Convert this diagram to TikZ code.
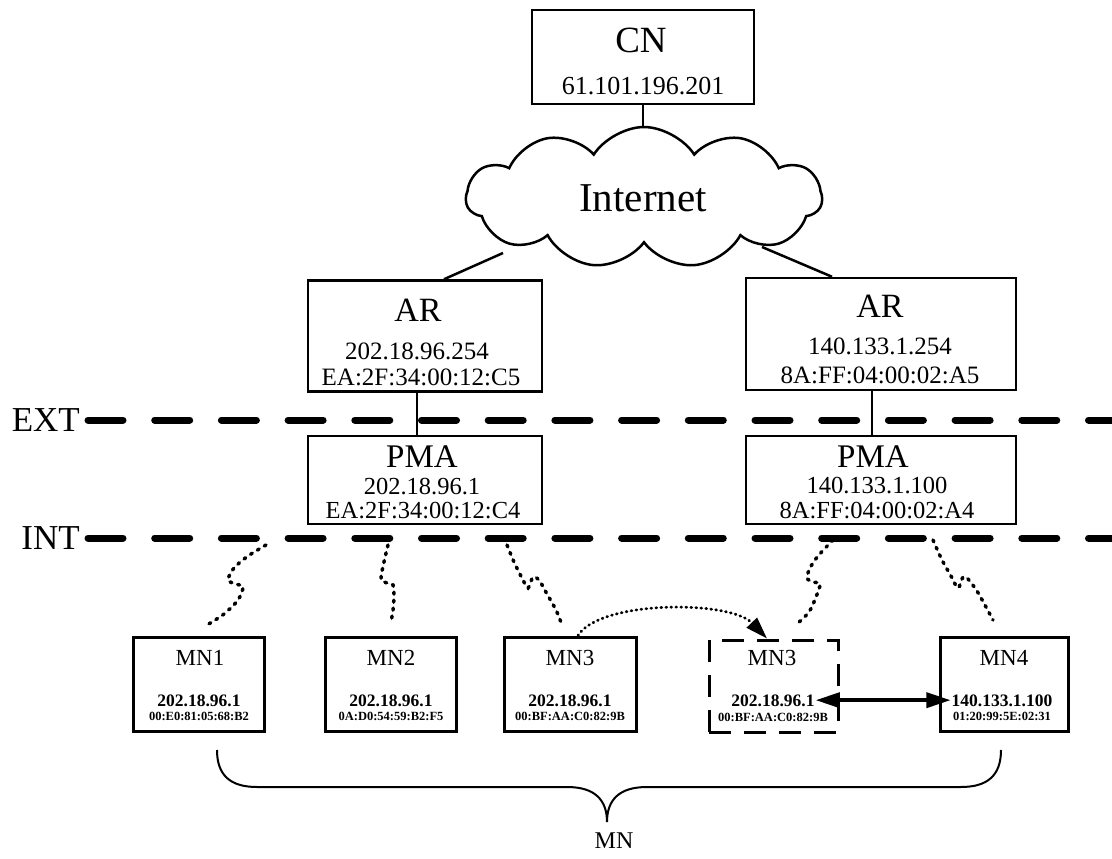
\documentclass[tikz,border=0pt]{standalone}
\usepackage{fontspec}
\setmainfont{Liberation Serif}
\usetikzlibrary{shapes.symbols,arrows.meta,calc}
\newcommand\sz[1]{\fontsize{#1}{#1}\selectfont}
\tikzset{
  ubox/.style={draw, line width=2.5pt, inner sep=0pt},
  mnbox/.style={draw, line width=3pt, inner sep=0pt, minimum height=94pt},
  txt/.style={anchor=base, inner sep=0pt, text depth=0pt},
  conn/.style={line width=2.5pt},
  netline/.style={line width=7pt, line cap=round, dash pattern=on 35pt off 31.7pt},
  wl/.style={line width=3.5pt, line cap=round, dash pattern=on 2pt off 6pt},
  mvarrow/.style={line width=2.8pt, line cap=round, dash pattern=on 0.8pt off 4.2pt, -{Triangle[length=22pt,width=14pt]}},
  dblarrow/.style={line width=3.5pt, {Triangle[length=24pt,width=15pt]}-{Triangle[length=24pt,width=15pt]}},
}
\begin{document}
\begin{tikzpicture}[x=1pt,y=-1pt]
\useasboundingbox (0,0) rectangle (1112,859);

% CN
\node[ubox, minimum width=222pt, minimum height=94pt] (cn) at (643,57) {};
\node[txt] (cnlbl) at (641,53) {\sz{37}CN};
\node[txt] (cnip) at (643,95) {\sz{26}61.101.196.201};

% Internet cloud
\node[cloud, draw, line width=2.5pt, cloud puffs=11, cloud puff arc=115, aspect=2.5,
      minimum width=356pt, minimum height=141pt, inner sep=0pt] (inet) at (644,197.5) {};
\node[txt] (inettxt) at (643,211) {\sz{41}Internet};
\coordinate (inetSW) at (503,253);
\coordinate (inetSE) at (762,247);

% AR boxes
\node[ubox, minimum width=234pt, minimum height=111pt] (arl) at (425,336) {};
\node[txt] (arlt) at (418,321) {\sz{34}AR};
\node[txt] (arlip) at (417,359) {\sz{25}202.18.96.254};
\node[txt] (arlmac) at (421,385) {\sz{25}EA:2F:34:00:12:C5};

\node[ubox, minimum width=270pt, minimum height=112pt] (arr) at (881,334) {};
\node[txt] (arrt) at (880,317) {\sz{34}AR};
\node[txt] (arrip) at (880,354) {\sz{25}140.133.1.254};
\node[txt] (arrmac) at (880,383) {\sz{25}8A:FF:04:00:02:A5};

% PMA boxes
\node[ubox, minimum width=234pt, minimum height=88pt] (pmal) at (425,480) {};
\node[txt] (pmalt) at (422,467) {\sz{33}PMA};
\node[txt] (pmalip) at (422,494) {\sz{24.5}202.18.96.1};
\node[txt] (pmalmac) at (423,518) {\sz{24.5}EA:2F:34:00:12:C4};

\node[ubox, minimum width=270pt, minimum height=88pt] (pmar) at (881,480) {};
\node[txt] (pmart) at (873,467) {\sz{33}PMA};
\node[txt] (pmarip) at (877,493) {\sz{24.5}140.133.1.100};
\node[txt] (pmarmac) at (877,518) {\sz{24.5}8A:FF:04:00:02:A4};

% connectors
\draw[conn] (cn.south) -- (cn.south |- inet.north);
\draw[conn] (inetSW) -- ([xshift=19pt]arl.north);
\draw[conn] (inetSE) -- ([xshift=-49pt]arr.north);
\draw[conn] ([xshift=-8pt]arl.south) -- ([xshift=-8pt]pmal.north);
\draw[conn] ([xshift=-9pt]arr.south) -- ([xshift=-9pt]pmar.north);

% EXT / INT lines
\node[txt, anchor=base east] (ext) at (80,431.5) {\sz{35}EXT};
\node[txt, anchor=base east] (int) at (80,549.5) {\sz{35}INT};
\coordinate (extend) at (1125,420);
\coordinate (intend) at (1125,538);
\draw[netline] (88,420) -- (extend);
\draw[netline] (88,538) -- (intend);

% MN boxes
\node[mnbox, minimum width=131pt] (mn1) at (198.5,684) {};
\node[txt] (mn1t) at (200,665) {\sz{23}MN1};
\node[txt] (mn1ip) at (199,706) {\bfseries\sz{17.5}202.18.96.1};
\node[txt] (mn1mac) at (199,720) {\bfseries\sz{12.5}00:E0:81:05:68:B2};

\node[mnbox, minimum width=131pt] (mn2) at (390.5,684) {};
\node[txt] (mn2t) at (391,665) {\sz{23}MN2};
\node[txt] (mn2ip) at (391,706) {\bfseries\sz{17.5}202.18.96.1};
\node[txt] (mn2mac) at (391,720) {\bfseries\sz{12.5}0A:D0:54:59:B2:F5};

\node[mnbox, minimum width=132pt] (mn3) at (570,684) {};
\node[txt] (mn3t) at (570,665) {\sz{23}MN3};
\node[txt] (mn3ip) at (570,706) {\bfseries\sz{17.5}202.18.96.1};
\node[txt] (mn3mac) at (570,720) {\bfseries\sz{12.5}00:BF:AA:C0:82:9B};

\node[mnbox, minimum width=129pt, minimum height=92pt, dash pattern=on 22pt off 13pt] (mn3b) at (773.5,686) {};
\node[txt] (mn3bt) at (772,665) {\sz{23}MN3};
\node[txt] (mn3bip) at (773,706) {\bfseries\sz{17.5}202.18.96.1};
\node[txt] (mn3bmac) at (773,721) {\bfseries\sz{12.5}00:BF:AA:C0:82:9B};

\node[mnbox, minimum width=128pt] (mn4) at (1004.5,684) {};
\node[txt] (mn4t) at (1004,665) {\sz{23}MN4};
\node[txt] (mn4ip) at (1002,706) {\bfseries\sz{17.5}140.133.1.100};
\node[txt] (mn4mac) at (1002,720) {\bfseries\sz{12.5}01:20:99:5E:02:31};

% wireless links
\draw[wl] plot[smooth, tension=0.5] coordinates {(266,545) (248,556) (234,568) (228,580) (236,584) (243,587) (238,600) (224,614) (207,625)};
\draw[wl] plot[smooth, tension=0.5] coordinates {(388,545) (384,562) (381,579) (387,583) (393,585) (394,596) (393,610) (391,622)};
\draw[wl] plot[smooth, tension=0.5] coordinates {(507,545) (514,562) (522,578) (528,588) (533,577) (539,580) (547,594) (556,610) (562,625)};
\draw[wl] plot[smooth, tension=0.5] coordinates {(833,540) (818,556) (810,568) (807,578) (813,582) (820,584) (816,597) (809,612) (798,623)};
\draw[wl] plot[smooth, tension=0.5] coordinates {(933,540) (942,560) (951,576) (958,588) (963,577) (968,579) (977,591) (986,607) (993,620)};

% movement arrow
\draw[mvarrow] ([xshift=8pt]mn3.north) .. controls (600,600) and (730,600) .. ([xshift=-6.5pt]mn3b.north);

% double arrow
\draw[dblarrow] ([xshift=1pt]mn3bip.east) -- ([xshift=-1pt]mn4ip.west);

% brace
\draw[line width=2pt] (217,750) .. controls (217,775) and (230,787) .. (257,787) -- (567,787)
  .. controls (595,787) and (607,800) .. (607,822)
  .. controls (607,800) and (619,787) .. (647,787) -- (961,787)
  .. controls (988,787) and (1001,775) .. (1001,750);
\node[txt] (mnlbl) at (614,848) {\sz{24}MN};
\end{tikzpicture}
\end{document}
